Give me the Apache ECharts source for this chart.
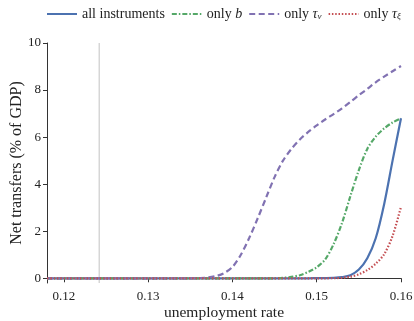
<!DOCTYPE html>
<html>
<head>
<meta charset="utf-8">
<script src="https://cdn.jsdelivr.net/npm/echarts@6/dist/echarts.min.js"></script>
<style>
  html, body { margin: 0; padding: 0; background: #fff; }
  #chart { width: 414px; height: 321px; }
</style>
</head>
<body>
<div id="chart"></div>
<script>
// unemployment rate grid
const xs = [
  0.118, 0.119, 0.120, 0.121, 0.122, 0.123, 0.124, 0.125, 0.126, 0.127,
  0.128, 0.129, 0.130, 0.131, 0.132, 0.133, 0.134, 0.135, 0.136, 0.137,
  0.138, 0.139, 0.140, 0.141, 0.142, 0.143, 0.144, 0.145, 0.146, 0.147,
  0.148, 0.149, 0.150, 0.151, 0.152, 0.153, 0.154, 0.155, 0.156, 0.157,
  0.158, 0.159, 0.160
];
// net transfers, % of GDP
const allInstruments = [
  0, 0, 0, 0, 0, 0, 0, 0, 0, 0,
  0, 0, 0, 0, 0, 0, 0, 0, 0, 0,
  0, 0, 0, 0, 0, 0, 0, 0, 0, 0,
  0, 0, 0.005, 0.01, 0.02, 0.05, 0.13, 0.37, 0.85, 1.7,
  3.15, 5.0, 6.8
];
const onlyB = [
  0, 0, 0, 0, 0, 0, 0, 0, 0, 0,
  0, 0, 0, 0, 0, 0, 0, 0, 0, 0,
  0, 0, 0, 0, 0, 0, 0, 0, 0.02, 0.06,
  0.13, 0.27, 0.47, 0.8, 1.45, 2.35, 3.5, 4.6, 5.5, 6.02,
  6.37, 6.62, 6.8
];
const onlyTauV = [
  0, 0, 0, 0, 0, 0, 0, 0, 0, 0,
  0, 0, 0, 0, 0, 0, 0, 0, 0.01, 0.03,
  0.09, 0.22, 0.48, 1.0, 1.72, 2.55, 3.43, 4.3, 5.0, 5.5,
  5.9, 6.22, 6.5, 6.75, 6.98, 7.22, 7.5, 7.78, 8.05, 8.33,
  8.57, 8.8, 9.02
];
const onlyTauXi = [
  0, 0, 0, 0, 0, 0, 0, 0, 0, 0,
  0, 0, 0, 0, 0, 0, 0, 0, 0, 0,
  0, 0, 0, 0, 0, 0, 0, 0, 0, 0,
  0, 0, 0, 0, 0.005, 0.02, 0.07, 0.17, 0.35, 0.62,
  1.02, 1.8, 3.04
];
const xTicks = [0.12, 0.13, 0.14, 0.15, 0.16];
const yTicks = [0, 2, 4, 6, 8, 10];
const markX = 0.1242; // grey reference line
const yMin = -0.2, yMax = 10;

const FONT = 'Liberation Serif';

function pairs(arr) {
  return xs.map((x, i) => [x, arr[i]]);
}

function lineSeries(name, arr, color, type) {
  return {
    name: name,
    type: 'line',
    data: pairs(arr),
    symbol: 'none',
    smooth: 0.3,
    clip: false,
    lineStyle: { color: color, width: 2.2, type: type },
    itemStyle: { color: color },
    emphasis: { disabled: true }
  };
}

let myChart = echarts.init(document.getElementById('chart'));

let series = [
  {
    // vertical grey line
    name: 'marker',
    type: 'line',
    data: [[markX, yMin], [markX, yMax]],
    symbol: 'none',
    silent: true,
    lineStyle: { color: '#d6d6d6', width: 1.5 },
    z: 1
  },
  lineSeries('all instruments', allInstruments, '#4c72b0', 'solid'),
  lineSeries('only b', onlyB, '#55a868', [5, 2, 1.5, 2]),
  lineSeries('only tv', onlyTauV, '#8172b2', [6, 3.5]),
  lineSeries('only txi', onlyTauXi, '#c44e52', [1.5, 1.8])
];

myChart.setOption({
  animation: false,
  textStyle: { fontFamily: FONT },
  legend: {
    data: ['all instruments', 'only b', 'only tv', 'only txi'],
    top: 2,
    left: 41,
    itemWidth: 30,
    itemHeight: 10,
    itemGap: 6,
    itemStyle: { opacity: 0 },
    textStyle: {
      fontFamily: FONT,
      fontSize: 14,
      color: '#222',
      rich: {
        it: { fontFamily: FONT, fontStyle: 'italic', fontSize: 14, color: '#222' },
        sub: { fontFamily: FONT, fontStyle: 'italic', fontSize: 9, color: '#222', padding: [6, 0, 0, 0] }
      }
    },
    formatter: function (name) {
      if (name === 'only b') return 'only {it|b}';
      if (name === 'only tv') return 'only {it|τ}{sub|v}';
      if (name === 'only txi') return 'only {it|τ}{sub|ξ}';
      return name;
    }
  },
  grid: { left: 47, right: 13, top: 43, bottom: 38, outerBoundsMode: 'none' },
  xAxis: {
    type: 'value',
    min: 0.118,
    max: 0.16,
    name: 'unemployment rate',
    nameLocation: 'middle',
    nameGap: 22,
    nameMoveOverlap: false,
    nameTextStyle: { fontFamily: FONT, fontSize: 15.5, color: '#222' },
    axisLine: { show: true, lineStyle: { color: '#333', width: 1 } },
    axisTick: { show: true, length: 4, customValues: xTicks, lineStyle: { color: '#333' } },
    axisLabel: { customValues: xTicks, fontFamily: FONT, fontSize: 13, color: '#222', margin: 7 },
    splitLine: { show: false }
  },
  yAxis: {
    type: 'value',
    min: yMin,
    max: yMax,
    name: 'Net transfers (% of GDP)',
    nameLocation: 'middle',
    nameGap: 22,
    nameMoveOverlap: false,
    nameTextStyle: { fontFamily: FONT, fontSize: 16, color: '#222' },
    axisLine: { show: true, lineStyle: { color: '#333', width: 1 } },
    axisTick: { show: true, length: 4, customValues: yTicks, lineStyle: { color: '#333' } },
    axisLabel: { customValues: yTicks, fontFamily: FONT, fontSize: 13, color: '#222', margin: 6 },
    splitLine: { show: false }
  },
  series: series
});
</script>
</body>
</html>
